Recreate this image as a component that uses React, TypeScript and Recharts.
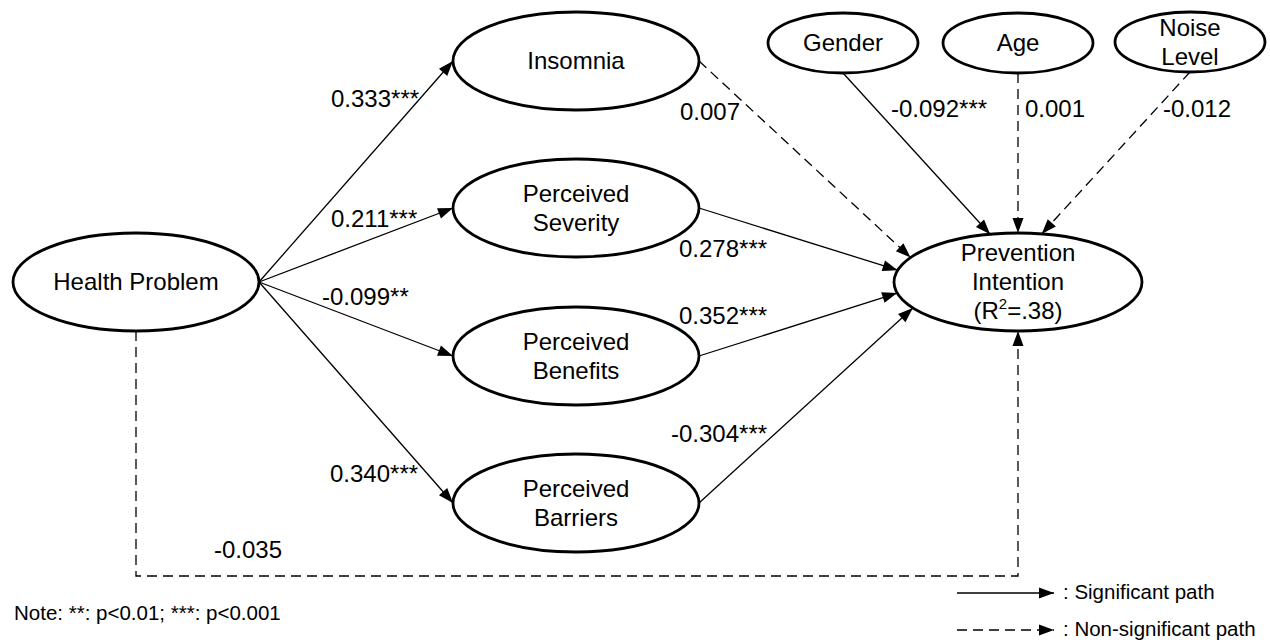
import React from 'react';
import { ScatterChart, Scatter, XAxis, YAxis } from 'recharts';

// page has an 8px body margin by default, drop it so the diagram sits at 0,0
if (typeof document !== 'undefined') document.body.style.margin = '0';

const W = 1270;
const H = 642;
const FONT = '"Liberation Sans", Arial, Helvetica, sans-serif';

// ---- data ----
const variables = [
  'Health Problem',
  'Insomnia',
  'Perceived Severity',
  'Perceived Benefits',
  'Perceived Barriers',
  'Prevention Intention',
  'Gender',
  'Age',
  'Noise Level',
];
const variableLabels = [
  'Health Problem',
  'Insomnia',
  'Perceived\nSeverity',
  'Perceived\nBenefits',
  'Perceived\nBarriers',
  'Prevention\nIntention',
  'Gender',
  'Age',
  'Noise\nLevel',
];
const rSquared = 0.38;

const pathFrom = [
  'Health Problem', 'Health Problem', 'Health Problem', 'Health Problem',
  'Insomnia', 'Perceived Severity', 'Perceived Benefits', 'Perceived Barriers',
  'Gender', 'Age', 'Noise Level', 'Health Problem',
];
const pathTo = [
  'Insomnia', 'Perceived Severity', 'Perceived Benefits', 'Perceived Barriers',
  'Prevention Intention', 'Prevention Intention', 'Prevention Intention', 'Prevention Intention',
  'Prevention Intention', 'Prevention Intention', 'Prevention Intention', 'Prevention Intention',
];
const coefficients = [0.333, 0.211, -0.099, 0.34, 0.007, 0.278, 0.352, -0.304, -0.092, 0.001, -0.012, -0.035];
const stars = ['***', '***', '**', '***', '', '***', '***', '***', '***', '', '', ''];

const noteText = 'Note: **: p<0.01; ***: p<0.001';
const legendLabels = [': Significant path', ': Non-significant path'];

// ---- layout (diagram units, 1 unit = 1px) ----
const nodeLayout: Record<string, { x: number; y: number; rx: number; ry: number }> = {
  'Health Problem': { x: 136, y: 282, rx: 123, ry: 49 },
  Insomnia: { x: 576, y: 61, rx: 123, ry: 49 },
  'Perceived Severity': { x: 576, y: 208, rx: 123, ry: 49 },
  'Perceived Benefits': { x: 576, y: 356, rx: 123, ry: 49 },
  'Perceived Barriers': { x: 576, y: 503, rx: 123, ry: 49 },
  'Prevention Intention': { x: 1018, y: 282, rx: 124, ry: 49 },
  Gender: { x: 843, y: 43, rx: 75, ry: 30 },
  Age: { x: 1018, y: 43, rx: 75, ry: 30 },
  'Noise Level': { x: 1190, y: 42, rx: 75, ry: 30 },
};
// angle (deg, y down) where each path leaves / enters an ellipse
const pathAngles = [
  [0, 180], [0, 180], [0, 180], [0, 180],
  [0, 210], [0, 194], [0, 167], [0, 148],
  [90, 257], [90, 270], [90, 281], [90, 90],
];
const elbowY = 576; // route of the direct Health Problem -> Prevention path
const labelPos = [
  [331, 107], [331, 227], [322, 305], [330, 482],
  [680, 120], [679, 257], [679, 324], [671, 442],
  [891, 117], [1025, 117], [1163, 117], [214, 558],
];
const legendRows = [593, 630];

// ---- helpers ----
const onEllipse = (name: string, deg: number) => {
  const n = nodeLayout[name];
  const a = (deg * Math.PI) / 180;
  return { x: n.x + n.rx * Math.cos(a), y: n.y + n.ry * Math.sin(a) };
};

const withTip = (pts: { x: number; y: number }[]) => {
  const a = pts[pts.length - 2];
  const b = pts[pts.length - 1];
  return pts.map((p, i) =>
    i === pts.length - 1 ? { ...p, tip: true, dx: b.x - a.x, dy: b.y - a.y } : { ...p, tip: false },
  );
};

const nodeData = variables.map((v, i) => ({ ...nodeLayout[v], name: v, label: variableLabels[i] }));

const pathData = pathFrom.map((from, i) => {
  const s = onEllipse(from, pathAngles[i][0]);
  const e = onEllipse(pathTo[i], pathAngles[i][1]);
  const pts = from === 'Health Problem' && pathTo[i] === 'Prevention Intention'
    ? [s, { x: s.x, y: elbowY }, { x: e.x, y: elbowY }, e]
    : [s, e];
  return { points: withTip(pts), significant: stars[i] !== '' };
});

const coefLabels = coefficients.map((c, i) => ({
  x: labelPos[i][0],
  y: labelPos[i][1],
  text: c.toFixed(3) + stars[i],
  size: 24,
}));

const captions = [
  { x: 14, y: 620, text: noteText, size: 20.5 },
  ...legendLabels.map((t, i) => ({ x: 1063, y: legendRows[i] + 6, text: t, size: 20.5 })),
];

const legendLines = legendRows.map((y, i) => ({
  points: withTip([{ x: 957, y }, { x: 1054, y }]),
  significant: i === 0,
}));

// ---- shapes ----
const ArrowTip = (props: any) => {
  const { cx, cy, payload } = props;
  if (!payload || !payload.tip) return <g />;
  const a = Math.atan2(payload.dy, payload.dx);
  const L = 15;
  const hw = 5.5;
  const bx = cx - L * Math.cos(a);
  const by = cy - L * Math.sin(a);
  const px = -Math.sin(a) * hw;
  const py = Math.cos(a) * hw;
  return (
    <polygon
      points={`${cx},${cy} ${bx + px},${by + py} ${bx - px},${by - py}`}
      fill="#000"
      stroke="none"
    />
  );
};

const NodeShape = (props: any) => {
  const { cx, cy, payload } = props;
  const lines: string[] = payload.label.split('\n');
  const isOutcome = payload.name === 'Prevention Intention';
  const n = lines.length + (isOutcome ? 1 : 0);
  const lh = 29;
  const yAt = (i: number) => cy + 8 + (i - (n - 1) / 2) * lh;
  return (
    <g>
      <ellipse cx={cx} cy={cy} rx={payload.rx} ry={payload.ry} fill="#fff" stroke="#000" strokeWidth={2.8} />
      <text textAnchor="middle" fontFamily={FONT} fontSize={24} fill="#000">
        {lines.map((l, i) => (
          <tspan key={i} x={cx} y={yAt(i)}>
            {l}
          </tspan>
        ))}
        {isOutcome && (
          <tspan x={cx} y={yAt(lines.length)}>
            (R
            <tspan fontSize={15} dy={-10}>2</tspan>
            <tspan dy={10}>=.{Math.round(rSquared * 100)})</tspan>
          </tspan>
        )}
      </text>
    </g>
  );
};

const TextShape = (props: any) => {
  const { cx, cy, payload } = props;
  return (
    <text x={cx} y={cy} fontFamily={FONT} fontSize={payload.size} fill="#000">
      {payload.text}
    </text>
  );
};

export default function App() {
  return (
    <div style={{ width: W, height: H, background: '#fff' }}>
      <ScatterChart width={W} height={H} margin={{ top: 0, right: 0, bottom: 0, left: 0 }}>
        <XAxis type="number" dataKey="x" domain={[0, W]} hide allowDataOverflow />
        <YAxis type="number" dataKey="y" domain={[0, H]} reversed hide allowDataOverflow />
        <Scatter data={nodeData} shape={NodeShape} isAnimationActive={false} />
        {[...pathData, ...legendLines].map((p, i) => (
          <Scatter
            key={`path-${i}`}
            data={p.points}
            fill="#000"
            line={{
              stroke: '#000',
              strokeWidth: 1.3,
              strokeDasharray: p.significant ? undefined : '10 6',
            }}
            lineType="joint"
            shape={ArrowTip}
            isAnimationActive={false}
          />
        ))}
        <Scatter data={coefLabels} shape={TextShape} isAnimationActive={false} />
        <Scatter data={captions} shape={TextShape} isAnimationActive={false} />
      </ScatterChart>
    </div>
  );
}
